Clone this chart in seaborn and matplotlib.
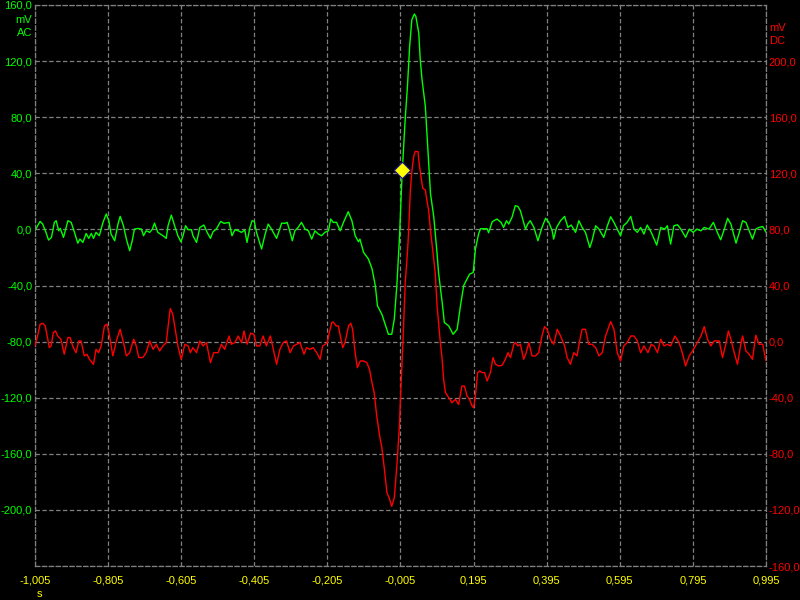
import numpy as np
import matplotlib
matplotlib.use("Agg")
import matplotlib.pyplot as plt
import seaborn as sns

# Kanal AC (grün, linke Achse), Zeit in s, Spannung in mV
green_t_left = [-1.005, -0.998, -0.991, -0.984, -0.975, -0.968, -0.960, -0.952, -0.947, -0.940,
                -0.936, -0.927, -0.915, -0.906, -0.897, -0.888, -0.882, -0.874, -0.865, -0.858,
                -0.851, -0.845, -0.838, -0.829, -0.819, -0.810, -0.803, -0.797, -0.787, -0.778,
                -0.772, -0.763, -0.755, -0.746, -0.739, -0.733, -0.723, -0.714, -0.708, -0.701,
                -0.691, -0.684, -0.678, -0.669, -0.655, -0.646, -0.641, -0.632, -0.623, -0.614,
                -0.606, -0.600, -0.593, -0.586, -0.577, -0.573, -0.563, -0.554, -0.543, -0.534,
                -0.525, -0.518, -0.509, -0.497, -0.488, -0.474, -0.466, -0.458, -0.449, -0.440,
                -0.431, -0.425, -0.417, -0.411, -0.405, -0.399, -0.385, -0.376, -0.367, -0.358,
                -0.344, -0.330, -0.321, -0.315, -0.307, -0.301, -0.294, -0.285, -0.276, -0.266,
                -0.257, -0.248, -0.239, -0.230, -0.221, -0.212, -0.202, -0.196, -0.189, -0.180,
                -0.170, -0.161, -0.148, -0.138, -0.129, -0.120, -0.116]
green_mv_left = [-1.0, 2.6, 5.7, 3.8, -2.1, -7.6, -5.7, 5.0, 6.2, -1.0,
                 0.7, -5.7, 6.2, 5.0, -2.1, -9.8, -6.9, -9.3, -2.9, -6.4,
                 -2.9, -6.4, -2.1, -4.5, 5.0, 11.0, 6.2, -3.3, -8.1, 3.8,
                 9.3, 2.6, -6.9, -15.2, -8.1, 0.2, 0.7, 0.2, -4.5, -1.0,
                 -2.1, 0.2, 4.5, -2.1, -4.5, -6.4, 2.6, 10.2, 2.6, -4.5,
                 -8.8, -4.5, 2.6, -0.2, -0.2, -4.5, -9.3, 1.4, 3.1, -2.1,
                 -6.4, -1.7, 0.2, 5.7, 4.3, 5.0, -4.5, -0.2, -1.0, -2.1,
                 -0.5, -9.3, 1.4, 6.2, 5.7, -2.1, -14.0, -4.0, 3.8, 0.2,
                 -6.4, 4.5, 4.3, 5.0, -2.1, -8.1, -1.0, 1.4, 5.0, 0.2,
                 -1.0, -6.9, -1.0, -3.3, -4.5, -2.1, -1.0, 7.4, 5.0, 5.0,
                 -1.0, 5.0, 12.6, 6.2, -4.5, -8.8, -6.9]
green_t_mid = [-0.106, -0.093, -0.083, -0.074, -0.068, -0.056, -0.047, -0.038, -0.029, -0.022,
               -0.015, -0.010, -0.008, -0.001, 0.008, 0.014, 0.020, 0.026, 0.033, 0.037,
               0.045, 0.049, 0.054, 0.063, 0.069, 0.077, 0.086, 0.095, 0.099, 0.109,
               0.115, 0.127, 0.139, 0.150, 0.159, 0.168, 0.177, 0.184, 0.194, 0.200,
               0.209, 0.214, 0.232, 0.236, 0.246, 0.259]
green_mv_mid = [-16.4, -21, -28, -40, -54.5, -60.5, -67.6, -74.8, -74.8, -64,
                -40, -16.4, -7, 37.6, 79.3, 101.9, 130.5, 149.5, 153.6, 151.9,
                140, 121, 106.7, 87.6, 61.4, 25.7, 9, -17, -30.7, -52,
                -66.4, -68.8, -74.8, -71.2, -54.5, -40, -35.5, -31.9, -30.7, -14,
                -2.9, 0.5, 0.5, -2.4, 5.5, 7.4]
green_t_right = [0.270, 0.277, 0.285, 0.291, 0.300, 0.309, 0.316, 0.323, 0.332, 0.337,
                 0.343, 0.350, 0.360, 0.371, 0.382, 0.392, 0.401, 0.410, 0.414, 0.422,
                 0.433, 0.444, 0.453, 0.462, 0.474, 0.483, 0.492, 0.501, 0.513, 0.519,
                 0.529, 0.538, 0.551, 0.561, 0.570, 0.579, 0.588, 0.597, 0.605, 0.615,
                 0.625, 0.634, 0.643, 0.652, 0.661, 0.670, 0.681, 0.696, 0.707, 0.718,
                 0.725, 0.734, 0.743, 0.753, 0.762, 0.775, 0.785, 0.796, 0.806, 0.817,
                 0.826, 0.839, 0.851, 0.860, 0.871, 0.881, 0.890, 0.899, 0.913, 0.922,
                 0.931, 0.940, 0.949, 0.958, 0.967, 0.976, 0.986, 0.995]
green_mv_right = [5, 1.4, 6.2, 3.8, 8.6, 16.9, 16.4, 13.3, 5, 0.2,
                  3.8, 6.2, 1.4, -8.1, 1.4, 7.9, 5, -1, -6.9, 1.4,
                  6.2, 9.3, 1.4, 3.1, -2.1, 6.2, 1.4, -2.1, -12.9, -8.1,
                  2.6, 0.2, -5.7, 2.6, 9, 5, 0.2, -4.5, 2.6, 5,
                  9.3, 0.2, -2.1, 1.4, -3.3, 3.1, -2.1, -11.2, 1.4, 0.2,
                  2.6, -10.5, 2.6, 3.3, 0.2, -5.7, 0.2, -2.1, 0.2, -1,
                  1.4, 0.2, 5, -1, -7.4, 0.2, 7.9, 3.8, -9.8, -2.1,
                  6.2, 5, -1, -6.9, 0.2, 1.4, 2.1, -2.1]

# Kanal DC (rot, rechte Achse)
red_t_left = [-1.005, -0.998, -0.991, -0.984, -0.977, -0.970, -0.966, -0.961, -0.955, -0.949,
              -0.943, -0.934, -0.925, -0.915, -0.909, -0.902, -0.893, -0.885, -0.879, -0.870,
              -0.863, -0.856, -0.845, -0.838, -0.831, -0.824, -0.815, -0.808, -0.801, -0.792,
              -0.781, -0.772, -0.763, -0.755, -0.746, -0.735, -0.728, -0.721, -0.710, -0.701,
              -0.691, -0.682, -0.673, -0.664, -0.655, -0.646, -0.635, -0.628, -0.620, -0.614,
              -0.605, -0.595, -0.586, -0.580, -0.573, -0.563, -0.554, -0.545, -0.536, -0.525,
              -0.516, -0.504, -0.495, -0.486, -0.474, -0.468, -0.458, -0.449, -0.440, -0.433,
              -0.425, -0.415, -0.406, -0.399, -0.390, -0.381, -0.372, -0.361, -0.351, -0.344,
              -0.335, -0.326, -0.317, -0.307, -0.298, -0.289, -0.280, -0.269, -0.262, -0.253,
              -0.244, -0.234]
red_mv_left = [-3.1, 4.0, 12.4, 13.1, 11.2, 1.7, -4.3, -3.1, 6.4, 7.6,
               4.0, 1.7, -9.0, 2.9, 2.9, -3.1, -7.9, 0.5, 0.5, -10.2,
               -9.0, -12.6, -16.2, -5.5, -7.9, -3.1, 11.2, 12.4, 4.0, -10.2,
               1.7, 8.8, -0.7, -10.2, -7.9, 1.7, -3.1, -11.4, -11.4, -7.9,
               0.5, -5.5, -1.9, -6.7, -3.1, -0.7, 23.6, 19.5, 6.4, -3.1,
               -12.6, -1.9, -3.1, -7.9, -4.3, -7.9, 0.5, -3.1, -0.7, -15.0,
               -7.9, -7.9, -1.9, -5.5, 4.0, -1.9, -0.7, 4.0, -0.7, 7.6,
               -1.9, 6.0, 5.2, -3.1, -3.1, 4.0, -3.1, 4.0, -7.9, -16.2,
               -5.5, -0.7, 0.5, -7.9, -3.1, -1.9, -0.7, -9.0, -4.3, -5.5,
               -4.3, -7.9]
red_t_mid = [-0.225, -0.218, -0.211, -0.205, -0.200, -0.193, -0.189, -0.181, -0.175, -0.168,
             -0.163, -0.157, -0.147, -0.141, -0.136, -0.129, -0.123, -0.115, -0.106, -0.097,
             -0.090, -0.083, -0.077, -0.070, -0.062, -0.056, -0.050, -0.042, -0.036, -0.029,
             -0.022, -0.015, -0.008, -0.004, 0.002, 0.008, 0.014, 0.017, 0.022, 0.026,
             0.031, 0.035, 0.043, 0.046, 0.051, 0.056, 0.063, 0.067, 0.072, 0.077,
             0.084, 0.090, 0.095, 0.099, 0.104, 0.109, 0.113, 0.118, 0.127, 0.136,
             0.145, 0.154, 0.163, 0.170, 0.177, 0.184, 0.191, 0.195, 0.200, 0.206,
             0.212, 0.218, 0.225, 0.232, 0.241, 0.248, 0.255, 0.264, 0.273, 0.282,
             0.289, 0.296, 0.305, 0.310, 0.316, 0.323]
red_mv_mid = [-12.6, -3.1, -1.9, -0.7, 6.4, 13.6, 14.0, 11.2, 11.2, 1.7,
              -4.3, -0.7, 11.2, 13.1, 8.8, -7.9, -18.6, -13.8, -13.8, -15.0,
              -19.8, -29.3, -36.4, -53.1, -67.4, -75.7, -88.8, -107.9, -111.4, -117.4,
              -111.4, -88.8, -60.2, -34.0, 1.7, 42.1, 63.6, 77.1, 108.1, 121.2,
              131.9, 135.5, 135.5, 127.1, 117.6, 109.3, 108.1, 101.0, 93.8, 79.5,
              62.9, 49.3, 25.5, 13.6, -0.7, -12.6, -26.9, -36.4, -40.0, -43.6,
              -41.2, -44.8, -31.7, -31.7, -38.8, -41.2, -46.0, -47.1, -38.8, -22.1,
              -20.9, -22.1, -22.1, -28.1, -22.1, -11.4, -16.2, -17.4, -16.9, -12.6,
              -7.9, -11.4, -1.9, -0.7, -3.1, -1.9]
red_t_right = [0.332, 0.339, 0.346, 0.355, 0.364, 0.373, 0.382, 0.389, 0.396, 0.405,
               0.414, 0.424, 0.433, 0.444, 0.451, 0.460, 0.469, 0.478, 0.486, 0.492,
               0.501, 0.510, 0.519, 0.529, 0.538, 0.547, 0.556, 0.570, 0.579, 0.588,
               0.597, 0.606, 0.615, 0.625, 0.634, 0.643, 0.652, 0.661, 0.672, 0.681,
               0.689, 0.698, 0.707, 0.716, 0.725, 0.734, 0.746, 0.757, 0.766, 0.775,
               0.785, 0.794, 0.803, 0.817, 0.826, 0.835, 0.844, 0.853, 0.867, 0.876,
               0.885, 0.892, 0.899, 0.908, 0.917, 0.926, 0.931, 0.940, 0.949, 0.958,
               0.967, 0.976, 0.986, 0.995]
red_mv_right = [-12.6, -7.9, -0.7, -10.2, -10.2, -7.9, 4.0, 10.7, 8.8, 1.7,
                -1.9, 8.8, 4.0, -3.1, -11.4, -16.2, -7.9, -10.2, 1.7, 8.8,
                8.8, -1.9, -1.9, -4.3, -10.2, -7.9, 4.0, 14.3, 8.8, -7.9,
                -13.8, -3.1, -0.7, 4.0, 4.0, 0.5, -7.9, -3.1, -7.9, -1.9,
                -3.1, -7.9, 1.7, -3.1, -1.9, -3.1, 4.0, -0.7, -7.9, -17.4,
                -10.2, -6.7, -2.6, 4.0, 10.7, 1.7, -3.1, 0.5, 0.5, -11.4,
                -1.9, 7.6, 1.7, -7.9, -16.2, -1.9, 4.0, -6.7, -9.0, -12.6,
                4.5, -1.9, -1.9, -13.8]

# Triggerpunkt (gelbe Raute)
trigger_t = [0.0]
trigger_mv = [42.6]

x_ticks = [-1.005, -0.805, -0.605, -0.405, -0.205, -0.005, 0.195, 0.395, 0.595, 0.795, 0.995]
left_ticks = [-240, -200, -160, -120, -80, -40, 0, 40, 80, 120, 160]
right_ticks = [-160, -120, -80, -40, 0, 40, 80, 120, 160, 200, 240]

GREEN = '#00ff00'
RED = '#ff0000'
YELLOW = '#ffff00'
GRID = '#808080'
FS = 8


def komma(v, nd):
    return f"{v:.{nd}f}".replace('.', ',')


green_t = green_t_left + green_t_mid + green_t_right
green_mv = green_mv_left + green_mv_mid + green_mv_right
red_t = red_t_left + red_t_mid + red_t_right
red_mv = red_mv_left + red_mv_mid + red_mv_right

sns.set_theme(style="dark", rc={"axes.facecolor": "black", "figure.facecolor": "black"})
plt.rcParams['font.family'] = ['Liberation Sans', 'DejaVu Sans']

fig = plt.figure(figsize=(8, 6), dpi=100, facecolor='black')
ax = fig.add_axes([35 / 800, 34 / 600, 731 / 800, 561 / 600])
ax.set_facecolor('black')
ax2 = ax.twinx()

sns.lineplot(x=green_t, y=green_mv, ax=ax, color=GREEN, linewidth=1.0, sort=False, estimator=None)
sns.lineplot(x=red_t, y=red_mv, ax=ax2, color=RED, linewidth=1.0, sort=False, estimator=None)
sns.scatterplot(x=trigger_t, y=trigger_mv, ax=ax, marker='D', s=70, color=YELLOW,
                edgecolor='#1a1a90', linewidth=0.8, zorder=5)

ax.set_xlim(-1.005, 0.995)
ax.set_ylim(-240, 160)
ax2.set_ylim(-160, 240)

ax.set_xticks(x_ticks)
ax.set_xticklabels([komma(v, 3) for v in x_ticks])
ax.set_yticks(left_ticks)
ax.set_yticklabels(['' if v == -240 else komma(v, 1) for v in left_ticks])
ax2.set_yticks(right_ticks)
ax2.set_yticklabels(['' if v == 240 else komma(v, 1) for v in right_ticks])

ax.tick_params(axis='x', length=0, pad=7, labelcolor=YELLOW, labelsize=FS)
ax.tick_params(axis='y', length=0, pad=2, labelcolor=GREEN, labelsize=FS)
ax2.tick_params(axis='y', length=0, pad=2, labelcolor=RED, labelsize=FS)

ax.grid(True, color=GRID, linestyle=(0, (3.5, 2)), linewidth=0.9)
ax2.grid(False)
for sp in ax.spines.values():
    sp.set_visible(True)
    sp.set_color(GRID)
    sp.set_linestyle((0, (3.5, 2)))
    sp.set_linewidth(0.9)
for sp in ax2.spines.values():
    sp.set_visible(False)

ax.set_xlabel('')
ax.set_ylabel('')
ax2.set_ylabel('')

fig.text(32 / 800, 1 - 20 / 600, 'mV', ha='right', va='center', color=GREEN, fontsize=FS)
fig.text(32 / 800, 1 - 33 / 600, 'AC', ha='right', va='center', color=GREEN, fontsize=FS)
fig.text(769 / 800, 1 - 28 / 600, 'mV', ha='left', va='center', color=RED, fontsize=FS)
fig.text(769 / 800, 1 - 41 / 600, 'DC', ha='left', va='center', color=RED, fontsize=FS)
fig.text(39 / 800, 1 - 594 / 600, 's', ha='center', va='center', color=YELLOW, fontsize=FS)

fig.savefig('out.png', dpi=100, facecolor='black')
